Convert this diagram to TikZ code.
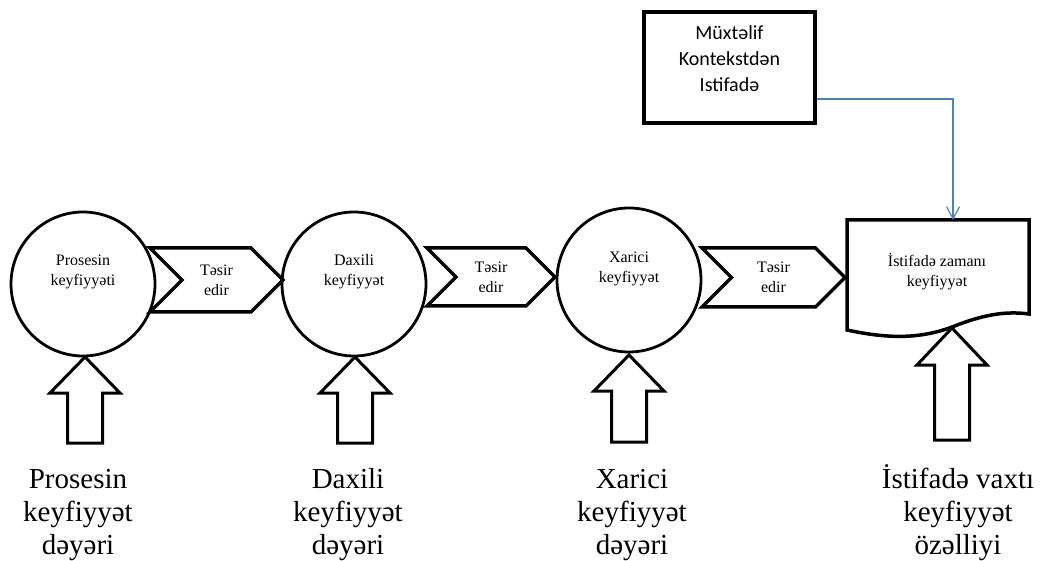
\documentclass[tikz,border=0pt]{standalone}
\usepackage{fontspec}
\setmainfont{Liberation Serif}
\newfontfamily\boxfont{Carlito}
\usetikzlibrary{shapes.symbols, arrows.meta}

\begin{document}
\begin{tikzpicture}
		[x=1pt,y=-1pt,line join=miter,
		%Styles
		quality node/.style={circle,draw,line width=2.8pt,minimum size=144pt,inner sep=0pt},
		quality text/.style={align=center,font=\fontsize{16}{20}\selectfont,inner sep=0pt},
		effect node/.style={signal,signal from=west,signal to=east,draw,line width=3.5pt,align=center,font=\fontsize{16}{20}\selectfont,inner sep=0pt},
		info box/.style={rectangle,draw,line width=3.5pt,minimum width=171pt,minimum height=111pt},
		info text/.style={align=center,font=\boxfont\fontsize{20}{26}\selectfont,inner sep=0pt},
		value text/.style={align=center,font=\fontsize{29}{33}\selectfont,inner sep=0pt,anchor=base},
		block arrow/.style={draw,line width=3pt},
		doc line/.style={line width=3.5pt},
		link/.style={draw=linkblue,line width=1.2pt,-{Straight Barb[length=12pt,width=13pt]}}
		]
		
		%Colors
		\definecolor{linkblue}{RGB}{79,129,189}	%connector from the context box
		
		\useasboundingbox (0,0) rectangle (1044,561);
		
		%The graphic
		
		\node[quality node] (Proses) at (83,284) {};
		\node[quality text] (ProsesText) at (83,272) {Prosesin\\keyfiyyəti};
		\node[quality node] (Daxili) at (354,284) {};
		\node[quality text] (DaxiliText) at (354,272) {Daxili\\keyfiyyət};
		\node[quality node] (Xarici) at (629,280) {};
		\node[quality text] (XariciText) at (629,269) {Xarici\\keyfiyyət};
		
		\node[effect node,minimum width=133pt,minimum height=64pt] (Tesir1) at (216.5,280) {Təsir\\edir};
		\node[effect node,minimum width=128pt,minimum height=58pt] (Tesir2) at (491,277) {Təsir\\edir};
		\node[effect node,minimum width=143pt,minimum height=59pt] (Tesir3) at (773.5,277.5) {Təsir\\edir};
		
		%document shape
		\draw[doc line] (847,220) -- (1029,220) -- (1029,314)
			.. controls (1000,310) and (975,318) .. (952,327)
			.. controls (915,341) and (880,337) .. (847,330) -- cycle;
		\node[quality text] (Istifade) at (937,272) {İstifadə zamanı\\keyfiyyət};
		\coordinate (DocTop) at (953,220);
		
		\node[info box] (Kontekst) at (729.5,67.5) {};
		\node[info text] (KontekstText) at (729.5,59) {Müxtəlif\\Kontekstdən\\Istifadə};
		
		\draw[link] ([yshift=-31.5pt]Kontekst.east) -| (DocTop);
		
		%block arrows
		\draw[block arrow] (85,357) -- (120,393) -- (102.5,393) -- (102.5,443) -- (67.5,443) -- (67.5,393) -- (50,393) -- cycle;
		\draw[block arrow] (355,357) -- (390,393) -- (372.5,393) -- (372.5,443) -- (337.5,443) -- (337.5,393) -- (320,393) -- cycle;
		\draw[block arrow] (629,355) -- (664,391) -- (646.5,391) -- (646.5,442) -- (611.5,442) -- (611.5,391) -- (594,391) -- cycle;
		\draw[block arrow] (952,328) -- (987,365) -- (969.5,365) -- (969.5,440) -- (934.5,440) -- (934.5,365) -- (917,365) -- cycle;
		
		\node[value text] (ProsesValue) at (78,554) {Prosesin\\keyfiyyət\\dəyəri};
		\node[value text] (DaxiliValue) at (348,554) {Daxili\\keyfiyyət\\dəyəri};
		\node[value text] (XariciValue) at (632,554) {Xarici\\keyfiyyət\\dəyəri};
		\node[value text] (IstifadeValue) at (958,554) {İstifadə vaxtı\\keyfiyyət\\özəlliyi};
	\end{tikzpicture}
\end{document}
